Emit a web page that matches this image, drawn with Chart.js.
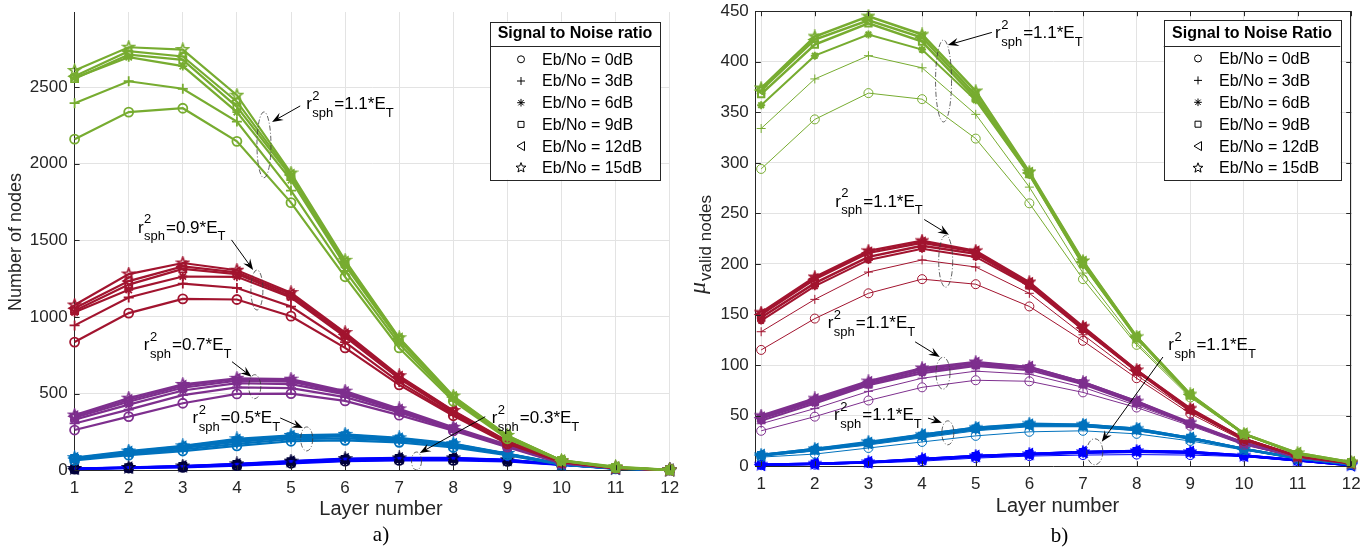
<!DOCTYPE html>
<html>
<head>
<meta charset="utf-8">
<script src="https://cdn.jsdelivr.net/npm/chart.js@4.4.1/dist/chart.umd.min.js"></script>
<style>
  html, body { margin: 0; padding: 0; background: #fff; }
  #wrap { position: relative; width: 1367px; height: 549px; overflow: hidden; }
  #cA { position: absolute; left: 0; top: 0; }
  #cB { position: absolute; left: 680px; top: 0; }
</style>
</head>
<body>
<div id="wrap">
  <canvas id="cA" width="680" height="549"></canvas>
  <canvas id="cB" width="687" height="549"></canvas>
</div>
<script>
const layers = [1, 2, 3, 4, 5, 6, 7, 8, 9, 10, 11, 12];
const nodeTicks = [0, 500, 1000, 1500, 2000, 2500];
const validTicks = [0, 50, 100, 150, 200, 250, 300, 350, 400, 450];
const snrNames = ['Eb/No = 0dB', 'Eb/No = 3dB', 'Eb/No = 6dB', 'Eb/No = 9dB', 'Eb/No = 12dB', 'Eb/No = 15dB'];
const snrMarks = ['circle', 'cross', 'star', 'rect', 'triangle', 'pentagram'];

// a) number of nodes per layer, one row per Eb/No (0, 3, 6, 9, 12, 15 dB)
const nodesR03 = [
  [7, 14, 18, 30, 45, 59, 64, 64, 57, 34, 11, 2],
  [8, 15, 21, 33, 49, 63, 69, 70, 61, 36, 11, 2],
  [9, 16, 23, 36, 52, 67, 73, 74, 64, 37, 11, 2],
  [10, 17, 25, 38, 55, 70, 76, 77, 66, 38, 11, 2],
  [10, 17, 26, 39, 57, 72, 78, 78, 67, 38, 11, 2],
  [11, 18, 27, 41, 59, 75, 80, 80, 68, 39, 11, 2]
];
const nodesR05 = [
  [64, 98, 125, 159, 189, 195, 182, 148, 98, 36, 9, 2],
  [70, 105, 135, 172, 202, 208, 193, 158, 102, 38, 10, 2],
  [74, 112, 145, 185, 212, 220, 200, 164, 104, 39, 10, 2],
  [76, 116, 150, 193, 218, 226, 204, 167, 106, 40, 10, 2],
  [79, 120, 155, 199, 222, 230, 207, 170, 107, 40, 11, 2],
  [82, 125, 159, 205, 227, 234, 211, 173, 109, 41, 11, 2]
];
const nodesR07 = [
  [262, 350, 437, 498, 500, 452, 359, 257, 150, 45, 14, 2],
  [305, 395, 490, 540, 535, 477, 377, 264, 155, 46, 14, 2],
  [330, 428, 520, 568, 562, 495, 386, 268, 158, 47, 14, 2],
  [342, 447, 538, 584, 578, 502, 390, 271, 160, 47, 14, 2],
  [352, 458, 550, 595, 586, 508, 394, 274, 162, 48, 14, 2],
  [360, 470, 560, 600, 594, 516, 400, 280, 166, 48, 15, 2]
];
const nodesR09 = [
  [836, 1025, 1118, 1114, 1005, 798, 557, 355, 172, 52, 14, 2],
  [945, 1127, 1218, 1189, 1068, 836, 575, 364, 176, 54, 14, 2],
  [1030, 1177, 1264, 1262, 1127, 870, 598, 375, 180, 56, 15, 2],
  [1041, 1211, 1314, 1280, 1136, 882, 605, 382, 183, 57, 15, 2],
  [1057, 1234, 1330, 1291, 1148, 886, 609, 385, 186, 58, 15, 2],
  [1078, 1280, 1352, 1305, 1159, 898, 616, 389, 190, 59, 16, 2]
];
const nodesR11 = [
  [2160, 2337, 2362, 2146, 1746, 1262, 798, 450, 205, 60, 15, 2],
  [2395, 2538, 2489, 2275, 1825, 1300, 825, 460, 212, 62, 16, 2],
  [2560, 2695, 2637, 2337, 1893, 1336, 848, 470, 218, 63, 17, 2],
  [2555, 2712, 2678, 2371, 1916, 1348, 852, 476, 222, 63, 18, 2],
  [2570, 2734, 2700, 2405, 1927, 1359, 859, 478, 224, 64, 20, 2],
  [2608, 2760, 2745, 2447, 1939, 1370, 864, 484, 227, 64, 23, 2]
];

// b) mean number of valid nodes per layer
const validR03 = [
  [1, 1.5, 3, 5, 8, 10, 11, 11.5, 11, 9.5, 5, 1],
  [1.2, 2, 3.4, 6, 9, 11, 12.5, 13.5, 12.5, 10, 5.5, 1],
  [1.4, 2.2, 3.6, 6.5, 9.5, 11.5, 13.5, 14.5, 13.5, 10.3, 6, 1],
  [1.5, 2.4, 3.8, 6.8, 9.8, 12, 13.8, 14.8, 13.8, 10.4, 6, 1],
  [1.5, 2.5, 4, 7, 10, 12, 14, 15, 14, 10.5, 6, 1],
  [1.5, 2.5, 4, 7, 10, 12, 14, 15, 14, 10.5, 6, 1]
];
const validR05 = [
  [9, 12, 18, 24, 30, 34, 35, 32, 25, 16, 7, 2],
  [10, 15, 21, 28, 35, 39, 39, 35, 27, 17, 7, 2],
  [10, 16, 22, 29, 36, 40, 40, 36, 27, 17, 8, 2],
  [11, 16, 23, 30, 37, 41, 40, 36, 28, 17, 8, 2],
  [11, 17, 23, 31, 38, 41, 41, 37, 28, 17, 8, 2],
  [11, 17, 24, 31, 38, 42, 41, 37, 28, 17, 8, 2]
];
const validR07 = [
  [35, 49, 65, 78, 85, 84, 73, 58, 40, 21, 9, 3],
  [42, 57, 74, 87, 94, 91, 78, 60, 41, 22, 9, 3],
  [45, 62, 80, 92, 99, 95, 81, 62, 42, 22, 9, 3],
  [47, 64, 81, 94, 100, 97, 82, 63, 42, 23, 9, 3],
  [48, 66, 83, 96, 102, 98, 83, 64, 42, 23, 9, 3],
  [50, 67, 84, 97, 103, 98, 83, 64, 43, 23, 9, 3]
];
const validR09 = [
  [115, 146, 171, 185, 180, 158, 124, 87, 52, 25, 10, 3],
  [133, 165, 192, 204, 197, 171, 130, 90, 54, 26, 10, 3],
  [144, 178, 204, 215, 207, 178, 135, 94, 55, 26, 10, 3],
  [147, 181, 207, 218, 210, 179, 136, 94, 56, 27, 10, 3],
  [150, 185, 211, 221, 212, 181, 137, 95, 56, 27, 10, 3],
  [152, 187, 213, 223, 213, 182, 138, 95, 57, 27, 10, 3.5]
];
const validR11 = [
  [294, 343, 369, 363, 324, 260, 185, 120, 68, 31, 12, 3.5],
  [334, 383, 406, 394, 348, 276, 191, 122, 69, 31, 12, 3.5],
  [357, 406, 427, 412, 362, 288, 199, 127, 70, 32, 12, 3.5],
  [368, 417, 438, 420, 364, 289, 200, 127, 70, 32, 12, 4],
  [372, 422, 441, 424, 367, 290, 202, 128, 71, 32, 13, 4],
  [374, 425, 445, 427, 371, 291, 203, 128, 71, 32, 13, 4]
];

const SANS = '"Liberation Sans", Arial, Helvetica, sans-serif';
const SERIF = '"Liberation Serif", "Times New Roman", serif';
const AXIS = '#262626';
const GRID = '#e3e3e3';
const BLUE = '#0000FF', LBLUE = '#0072BD', PURPLE = '#7E2F8E', RED = '#A2142F', GREEN = '#77AC30';

Chart.defaults.font.family = SANS;
Chart.defaults.color = AXIS;

// five-pointed star marker, drawn once per colour
function pentagram(color, size, lw) {
  const c = document.createElement('canvas');
  c.width = c.height = size;
  const g = c.getContext('2d');
  const R = size / 2 - lw, r = R * 0.42;
  g.beginPath();
  for (let i = 0; i < 10; i++) {
    const a = -Math.PI / 2 + i * Math.PI / 5, rad = i % 2 ? r : R;
    g.lineTo(size / 2 + rad * Math.cos(a), size / 2 + rad * Math.sin(a));
  }
  g.closePath();
  g.strokeStyle = color;
  g.lineWidth = lw;
  g.lineJoin = 'miter';
  g.stroke();
  return c;
}

function makeDatasets(groups, lineW, markW, markR, starSize) {
  const sets = [];
  groups.forEach((g, gi) => {
    g.rows.forEach((row, si) => {
      const mc = g.markColor || g.color;
      sets.push({
        label: g.name + ' ' + snrNames[si],
        data: row.map((v, i) => ({ x: layers[i], y: v })),
        borderColor: g.color,
        borderWidth: lineW[si],
        pointStyle: snrMarks[si] === 'pentagram' ? pentagram(mc, starSize, markW[si]) : snrMarks[si],
        pointRotation: snrMarks[si] === 'triangle' ? -90 : 0,
        pointRadius: markR[si],
        pointBorderColor: mc,
        pointBorderWidth: markW[si],
        pointBackgroundColor: 'rgba(0,0,0,0)',
        tension: 0,
        fill: false,
        clip: false,
        order: (groups.length - 1 - gi) * 6 + (5 - si)
      });
    });
  });
  return sets;
}

function drawMarker(ctx, kind, x, y) {
  ctx.beginPath();
  if (kind === 'circle') {
    ctx.arc(x, y, 3.5, 0, Math.PI * 2);
  } else if (kind === 'cross') {
    ctx.moveTo(x - 4, y); ctx.lineTo(x + 4, y); ctx.moveTo(x, y - 4); ctx.lineTo(x, y + 4);
  } else if (kind === 'star') {
    for (let i = 0; i < 4; i++) {
      const a = i * Math.PI / 4;
      ctx.moveTo(x - 3.8 * Math.cos(a), y - 3.8 * Math.sin(a));
      ctx.lineTo(x + 3.8 * Math.cos(a), y + 3.8 * Math.sin(a));
    }
  } else if (kind === 'rect') {
    ctx.rect(x - 3, y - 3, 6, 6);
  } else if (kind === 'triangle') {
    ctx.moveTo(x - 4, y); ctx.lineTo(x + 3.5, y - 4.5); ctx.lineTo(x + 3.5, y + 4.5); ctx.closePath();
  } else {
    for (let i = 0; i < 10; i++) {
      const a = -Math.PI / 2 + i * Math.PI / 5, rad = i % 2 ? 2.2 : 5.2;
      ctx.lineTo(x + rad * Math.cos(a), y + rad * Math.sin(a));
    }
    ctx.closePath();
  }
  ctx.stroke();
}

// r^2_sph = k*E_T label
function drawRsph(ctx, x, y, coef) {
  ctx.fillStyle = '#000';
  ctx.textBaseline = 'middle';
  ctx.textAlign = 'left';
  ctx.font = '17px ' + SANS;
  ctx.fillText('r', x, y);
  let cx = x + ctx.measureText('r').width + 0.5;
  ctx.font = '13px ' + SANS;
  ctx.fillText('2', cx, y - 8);
  ctx.fillText('sph', cx, y + 9);
  cx += ctx.measureText('sph').width + 1;
  ctx.font = '17px ' + SANS;
  const main = '=' + coef + '*E';
  ctx.fillText(main, cx, y);
  cx += ctx.measureText(main).width;
  ctx.font = '13px ' + SANS;
  ctx.fillText('T', cx, y + 9);
}

function drawArrow(ctx, x1, y1, x2, y2) {
  const a = Math.atan2(y2 - y1, x2 - x1);
  const L = 11, W = 4.2, N = 7;
  ctx.strokeStyle = '#000';
  ctx.fillStyle = '#000';
  ctx.lineWidth = 1;
  ctx.setLineDash([]);
  ctx.beginPath();
  ctx.moveTo(x1, y1);
  ctx.lineTo(x2 - Math.cos(a) * N, y2 - Math.sin(a) * N);
  ctx.stroke();
  ctx.save();
  ctx.translate(x2, y2);
  ctx.rotate(a);
  ctx.beginPath();
  ctx.moveTo(0, 0); ctx.lineTo(-L, -W); ctx.lineTo(-N, 0); ctx.lineTo(-L, W);
  ctx.closePath();
  ctx.fill();
  ctx.restore();
}

function decor(cfg) {
  return {
    id: 'decor' + cfg.key,
    afterDatasetsDraw(chart) {
      const ctx = chart.ctx, a = chart.chartArea, xs = chart.scales.x, ys = chart.scales.y;
      ctx.save();

      // inward tick marks (and the closed box on the right-hand axes)
      ctx.strokeStyle = AXIS;
      ctx.lineWidth = 1;
      ctx.beginPath();
      xs.ticks.forEach(t => {
        const px = Math.round(xs.getPixelForValue(t.value)) + 0.5;
        ctx.moveTo(px, a.bottom); ctx.lineTo(px, a.bottom - 5);
        if (cfg.box) { ctx.moveTo(px, a.top); ctx.lineTo(px, a.top + 5); }
      });
      ys.ticks.forEach(t => {
        const py = Math.round(ys.getPixelForValue(t.value)) + 0.5;
        ctx.moveTo(a.left, py); ctx.lineTo(a.left + 5, py);
        if (cfg.box) { ctx.moveTo(a.right, py); ctx.lineTo(a.right - 5, py); }
      });
      if (cfg.box) {
        ctx.moveTo(a.left, Math.round(a.top) + 0.5); ctx.lineTo(a.right, Math.round(a.top) + 0.5);
        ctx.moveTo(Math.round(a.right) - 0.5, a.top); ctx.lineTo(Math.round(a.right) - 0.5, a.bottom);
      }
      ctx.stroke();

      // callouts
      cfg.notes.forEach(n => {
        const ex = xs.getPixelForValue(n.ell[0]), ey = ys.getPixelForValue(n.ell[1]);
        ctx.strokeStyle = '#3a3a3a';
        ctx.lineWidth = 0.8;
        ctx.setLineDash([5, 2, 1, 2]);
        ctx.beginPath();
        ctx.ellipse(ex, ey, n.ell[2], n.ell[3], 0, 0, Math.PI * 2);
        ctx.stroke();
        drawArrow(ctx, xs.getPixelForValue(n.from[0]), ys.getPixelForValue(n.from[1]),
                       xs.getPixelForValue(n.to[0]), ys.getPixelForValue(n.to[1]));
        drawRsph(ctx, xs.getPixelForValue(n.at[0]), ys.getPixelForValue(n.at[1]), n.k);
      });

      // legend box
      const L = cfg.legend;
      ctx.setLineDash([]);
      ctx.fillStyle = '#fff';
      ctx.fillRect(L.x, L.y, L.w, L.h);
      ctx.strokeStyle = AXIS;
      ctx.lineWidth = 1;
      ctx.strokeRect(Math.round(L.x) + 0.5, Math.round(L.y) + 0.5, Math.round(L.w), Math.round(L.h));
      ctx.beginPath();
      ctx.moveTo(L.x, Math.round(L.sep) + 0.5); ctx.lineTo(L.x + L.w, Math.round(L.sep) + 0.5);
      ctx.stroke();
      ctx.fillStyle = '#000';
      ctx.textAlign = 'center';
      ctx.textBaseline = 'middle';
      ctx.font = 'bold 16px ' + SANS;
      ctx.fillText(L.title, L.x + L.w / 2, L.titleY);
      ctx.font = '16px ' + SANS;
      ctx.textAlign = 'left';
      snrNames.forEach((name, i) => {
        const ry = L.row0 + i * L.step;
        ctx.strokeStyle = '#000';
        ctx.lineWidth = 1;
        drawMarker(ctx, snrMarks[i], L.markX, ry);
        ctx.fillText(name, L.textX, ry + 1);
      });

      // axis titles and caption
      ctx.fillStyle = AXIS;
      ctx.font = '20px ' + SANS;
      ctx.textAlign = 'center';
      ctx.fillText('Layer number', cfg.xTitle[0], cfg.xTitle[1]);
      ctx.fillStyle = '#000';
      ctx.font = '21px ' + SERIF;
      ctx.fillText(cfg.caption, cfg.capPos[0], cfg.capPos[1]);
      cfg.yTitle(ctx);
      ctx.restore();
    }
  };
}

function baseOptions(area, yMax, yTicks, xMin) {
  return {
    responsive: false,
    animation: false,
    devicePixelRatio: 1,
    events: [],
    layout: { padding: { left: 0, top: area.top, right: area.padRight, bottom: 0 } },
    plugins: { legend: { display: false }, tooltip: { enabled: false } },
    scales: {
      x: {
        type: 'linear', min: xMin, max: 12,
        afterBuildTicks: s => { s.ticks = layers.map(v => ({ value: v })); },
        afterFit: s => { s.height = area.xHeight; s.paddingLeft = 0; s.paddingRight = 0; },
        grid: { color: GRID, drawTicks: false },
        border: { color: AXIS, width: 1 },
        ticks: { font: { size: 17 }, padding: 8, color: AXIS, maxRotation: 0, autoSkip: false,
                 callback: v => String(v) }
      },
      y: {
        type: 'linear', min: 0, max: yMax,
        afterBuildTicks: s => { s.ticks = yTicks.map(v => ({ value: v })); },
        afterFit: s => { s.width = area.left; s.paddingTop = 0; s.paddingBottom = 0; },
        grid: { color: GRID, drawTicks: false },
        border: { color: AXIS, width: 1 },
        ticks: { font: { size: 17 }, padding: 7, color: AXIS, autoSkip: false,
                 callback: v => String(v) }
      }
    }
  };
}

// ---- a) number of nodes ----
const groupsA = [
  { name: '0.3', rows: nodesR03, color: BLUE, markColor: '#00003c' },
  { name: '0.5', rows: nodesR05, color: LBLUE },
  { name: '0.7', rows: nodesR07, color: PURPLE },
  { name: '0.9', rows: nodesR09, color: RED },
  { name: '1.1', rows: nodesR11, color: GREEN }
];
new Chart(document.getElementById('cA'), {
  type: 'line',
  data: { datasets: makeDatasets(groupsA, [2.2, 2.2, 2.2, 2.2, 2.2, 2.2], [1.8, 1.8, 1.8, 1.8, 1.8, 1.6], [4.5, 5, 4.5, 5, 5.5, 5], 15) },
  options: baseOptions({ top: 12, left: 74.6, padRight: 10.3, xHeight: 78.8 }, 2990, nodeTicks, 1),
  plugins: [decor({
    key: 'A',
    box: false,
    notes: [
      { k: '1.1', at: [5.28, 2390], from: [5.17, 2377], to: [4.65, 2273], ell: [4.50, 2123, 7, 33] },
      { k: '0.9', at: [2.17, 1581], from: [3.90, 1503], to: [4.30, 1307], ell: [4.37, 1176, 6, 20] },
      { k: '0.7', at: [2.28, 817], from: [3.91, 708], to: [4.27, 610], ell: [4.33, 545, 6, 12] },
      { k: '0.5', at: [3.18, 341], from: [4.80, 341], to: [5.22, 275], ell: [5.29, 204, 6, 12] },
      { k: '0.3', at: [8.71, 341], from: [8.59, 349], to: [7.38, 112], ell: [7.32, 60, 5, 9] }
    ],
    legend: { x: 490, y: 21.6, w: 170, h: 158, sep: 45.7, title: 'Signal to Noise ratio', titleY: 34,
              row0: 59.3, step: 21.7, markX: 521, textX: 542 },
    xTitle: [381, 509],
    caption: 'a)',
    capPos: [381, 535],
    yTitle: ctx => {
      ctx.save();
      ctx.translate(16.4, 242);
      ctx.rotate(-Math.PI / 2);
      ctx.fillStyle = AXIS;
      ctx.font = '18px ' + SANS;
      ctx.textAlign = 'center';
      ctx.textBaseline = 'middle';
      ctx.fillText('Number of nodes', 0, 0);
      ctx.restore();
    }
  })]
});

// ---- b) mean valid nodes ----
const groupsB = [
  { name: '0.3', rows: validR03, color: BLUE },
  { name: '0.5', rows: validR05, color: LBLUE },
  { name: '0.7', rows: validR07, color: PURPLE },
  { name: '0.9', rows: validR09, color: RED },
  { name: '1.1', rows: validR11, color: GREEN }
];
new Chart(document.getElementById('cB'), {
  type: 'line',
  data: { datasets: makeDatasets(groupsB, [1, 1, 2, 2.5, 2.5, 2.5], [1, 1, 2, 2, 2, 2], [4.5, 4.5, 4, 4.5, 5.5, 5], 14) },
  options: baseOptions({ top: 11.2, left: 75.8, padRight: 15.8, xHeight: 82.8 }, 450, validTicks, 0.9),
  plugins: [decor({
    key: 'B',
    box: true,
    notes: [
      { k: '1.1', at: [5.36, 428], from: [5.30, 429], to: [4.48, 416.5], ell: [4.40, 381, 8, 41] },
      { k: '1.1', at: [2.38, 261.4], from: [4.04, 244], to: [4.50, 229], ell: [4.44, 202.7, 7, 26] },
      { k: '1.1', at: [2.24, 141.5], from: [3.87, 123], to: [4.33, 108], ell: [4.39, 92, 7, 16] },
      { k: '1.1', at: [2.36, 50.6], from: [4.11, 47.6], to: [4.37, 43], ell: [4.48, 33, 6, 12] },
      { k: '1.1', at: [8.59, 119.7], from: [8.49, 108], to: [7.35, 24.2], ell: [7.22, 14.3, 8, 13] }
    ],
    legend: { x: 483.8, y: 20.3, w: 176.6, h: 159.5, sep: 45.6, title: 'Signal to Noise Ratio', titleY: 33.3,
              row0: 58.5, step: 21.9, markX: 518, textX: 539 },
    xTitle: [377.5, 506.5],
    caption: 'b)',
    capPos: [379.6, 536],
    yTitle: ctx => {
      ctx.save();
      ctx.translate(19, 294);
      ctx.rotate(-Math.PI / 2);
      ctx.fillStyle = AXIS;
      ctx.textAlign = 'left';
      ctx.textBaseline = 'middle';
      ctx.font = 'italic 24px ' + SERIF;
      ctx.fillText('\u03bc', 0, 0);
      const w = ctx.measureText('\u03bc').width;
      ctx.font = '17px ' + SANS;
      ctx.fillText('valid nodes', w + 1, 7.7);
      ctx.restore();
    }
  })]
});
</script>
</body>
</html>
